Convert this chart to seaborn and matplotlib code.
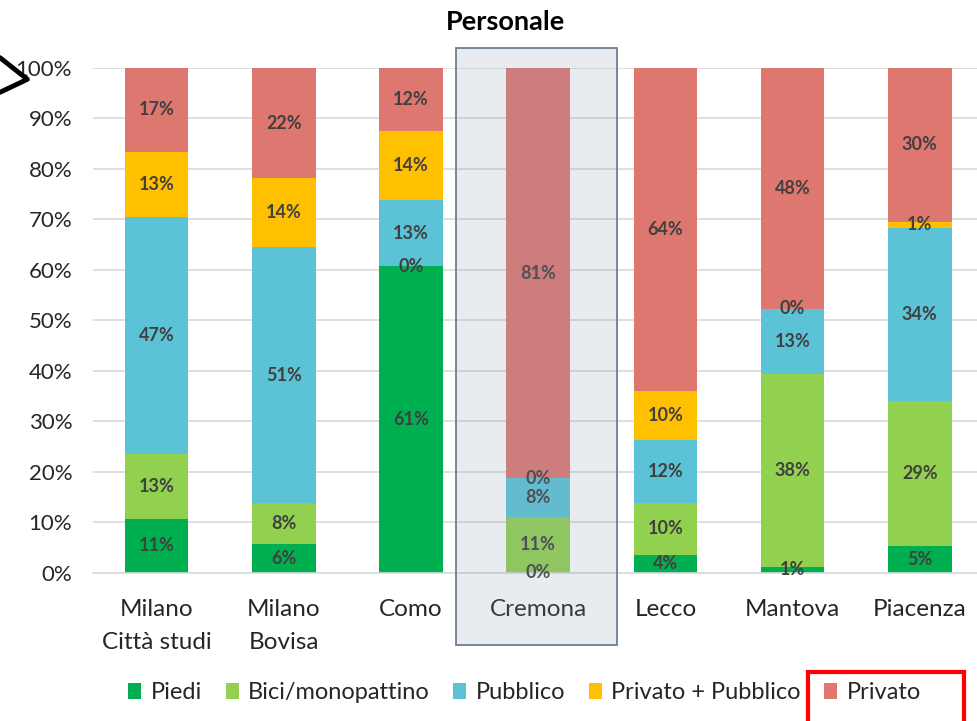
import matplotlib

matplotlib.use("Agg")

import numpy as np
import pandas as pd
import seaborn as sns
from matplotlib import pyplot as plt
from matplotlib.patches import Patch, Rectangle

# data (shares in %)
cities = ["Milano\nCittà studi", "Milano\nBovisa", "Como", "Cremona", "Lecco", "Mantova", "Piacenza"]
modes = ["Piedi", "Bici/monopattino", "Pubblico", "Privato + Pubblico", "Privato"]
piedi = [10.7, 5.7, 60.7, 0.0, 3.6, 1.2, 5.4]
bici = [12.9, 8.2, 0.0, 11.1, 10.3, 38.2, 28.7]
pubblico = [46.9, 50.6, 13.1, 7.7, 12.4, 12.9, 34.3]
privato_pubblico = [12.9, 13.7, 13.8, 0.0, 9.7, 0.0, 1.2]
privato = [16.6, 21.8, 12.4, 81.2, 64.0, 47.7, 30.4]

colors = ["#00B050", "#92D050", "#5BC3D5", "#FFC000", "#DE7770"]
highlight = "Cremona"

sns.set_theme(style="white")
plt.rcParams["font.family"] = ["Lato", "DejaVu Sans"]

frame = pd.DataFrame(
    {"city": cities, "Piedi": piedi, "Bici/monopattino": bici, "Pubblico": pubblico,
     "Privato + Pubblico": privato_pubblico, "Privato": privato}
)
cum = frame[modes].cumsum(axis=1)

fig = plt.figure(figsize=(9.77, 7.21), dpi=100)
ax = fig.add_axes([0.0952, 0.2053, 0.9048, 0.7004])
ax.set_axisbelow(True)

# overlapping cumulative bars, tallest first, give the stacked look
for mode, color in reversed(list(zip(modes, colors))):
    sns.barplot(x=frame["city"], y=cum[mode], color=color, width=0.5,
                saturation=1, linewidth=0, edgecolor="none", ax=ax, zorder=2)

for mode in modes:
    for i, city in enumerate(cities):
        value = frame.loc[i, mode]
        center = cum.loc[i, mode] - value / 2
        ax.text(i, center, f"{value:.0f}%", ha="center", va="center",
                fontsize=13, fontweight="bold", color="#404040", zorder=4)

ax.set_ylim(0, 100)
ax.set_xlim(-0.5, 6.45)
ax.set_yticks(np.arange(0, 101, 10))
ax.set_yticklabels([f"{t}%" for t in range(0, 101, 10)])
ax.yaxis.grid(True, color="#D9D9D9", linewidth=1.2)
ax.set_xlabel("")
ax.set_ylabel("")
for side in ["top", "right", "left"]:
    ax.spines[side].set_visible(False)
ax.spines["bottom"].set_color("#D9D9D9")
ax.spines["bottom"].set_linewidth(1.2)
ax.tick_params(axis="x", length=0, pad=19, labelsize=17.5, labelcolor="#262626")
ax.tick_params(axis="y", length=0, pad=15, labelsize=16, labelcolor="#262626")
for label in ax.get_xticklabels():
    label.set_linespacing(1.7)

# highlight box over Cremona
h = cities.index(highlight)
ax.add_patch(Rectangle((h - 0.65, -14.3), 1.27, 118.3, facecolor="#869BB0", alpha=0.19,
                       edgecolor="none", zorder=10, clip_on=False))
ax.add_patch(Rectangle((h - 0.65, -14.3), 1.27, 118.3, facecolor="none",
                       edgecolor="#6E7F8E", linewidth=1.3, zorder=11, clip_on=False))

fig.text(0.517, 0.970, "Personale", ha="center", va="center", fontsize=19.5,
         fontweight="bold", color="black")

handles = [Patch(facecolor=c, edgecolor="none") for c in colors]
fig.legend(handles, modes, loc="center", bbox_to_anchor=(0.537, 0.039), ncol=5,
           frameon=False, fontsize=17, handlelength=0.55, handleheight=0.7,
           handletextpad=0.4, columnspacing=1.0)

# red box drawn around the "Privato" legend entry
fig.patches.append(Rectangle((0.827, -0.01), 0.16, 0.078, transform=fig.transFigure,
                             facecolor="none", edgecolor="#FF0000", linewidth=3))
# hand-drawn arrow tip at top left
fig.lines.append(plt.Line2D([0.0, 0.028, 0.0], [0.92, 0.89, 0.872], transform=fig.transFigure,
                            color="black", linewidth=3.5))

fig.savefig("out.png", dpi=100)
